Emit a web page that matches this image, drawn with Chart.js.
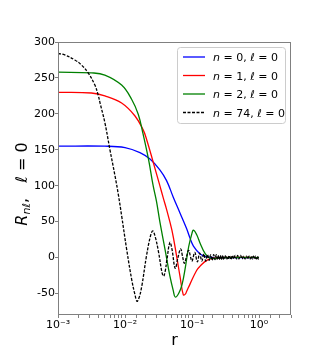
<!DOCTYPE html>
<html>
<head>
<meta charset="utf-8">
<script src="https://cdn.jsdelivr.net/npm/chart.js@4.4.0/dist/chart.umd.min.js"></script>
<style>
body{margin:0;background:#fff;}
#wrap{width:324px;height:354px;}
</style>
</head>
<body>
<div id="wrap"><canvas id="c" width="324" height="354"></canvas></div>
<script>
// series labels and colours
const labels = ['n = 0, ℓ = 0', 'n = 1, ℓ = 0', 'n = 2, ℓ = 0', 'n = 74, ℓ = 0'];
const colors = ['#0000ff', '#ff0000', '#008000', '#000000'];

// axis ticks
const xTickValues = [0.001, 0.01, 0.1, 1];
const xTickLabels = ['10⁻³', '10⁻²', '10⁻¹', '10⁰'];
const yTicks = [-50, 0, 50, 100, 150, 200, 250, 300];

// n = 0
const r0 = [0.001, 0.005, 0.01, 0.0167, 0.0236, 0.0331, 0.0417, 0.0525, 0.0661, 0.0832, 0.0933, 0.105, 0.132, 0.166, 0.209, 1.0];
const R0 = [155, 155, 153, 146, 137, 122, 107, 84, 62, 40, 27, 16, 5, 1, 0, 0];

// n = 1
const r1 = [0.001, 0.00316, 0.005, 0.0089, 0.0141, 0.0186, 0.0209, 0.0263, 0.0331, 0.0372, 0.0417, 0.0501, 0.0589, 0.0661, 0.0741, 0.0794, 0.0832, 0.0933, 0.117, 0.132, 0.166, 0.209, 0.263, 1.0];
const R1 = [230, 229, 225, 215, 197, 178, 165, 133, 100, 83, 67, 38, 2, -26, -52, -51, -47, -37, -18, -12, -4, -1, 0, 0];

// n = 2
const r2 = [0.001, 0.00316, 0.005, 0.0089, 0.0126, 0.0158, 0.0186, 0.0224, 0.0263, 0.0295, 0.0331, 0.0398, 0.0468, 0.0525, 0.0562, 0.0631, 0.0708, 0.0794, 0.0891, 0.1, 0.105, 0.117, 0.132, 0.158, 0.186, 0.224, 0.316, 1.0];
const R2 = [258, 257, 254, 240, 220, 199, 172, 137, 100, 78, 50, 10, -26, -46, -55, -50, -38, -14, 15, 34, 38, 32, 20, 5, -1, -1, 0, 0];

// n = 74
const r74 = [0.001, 0.00126, 0.00178, 0.00224, 0.00282, 0.00355, 0.00398, 0.00427, 0.005, 0.00596, 0.00708, 0.00794, 0.00891, 0.0106, 0.0126, 0.0141, 0.0151, 0.0162, 0.0178, 0.0209, 0.024, 0.026, 0.0282, 0.0316, 0.0355, 0.0376, 0.0398, 0.0422, 0.0468, 0.0501, 0.0562, 0.0617, 0.0676, 0.0724, 0.0767, 0.0832, 0.089, 0.0955,
  0.1, 0.11, 0.12, 0.13, 0.14, 0.15, 0.16, 0.17, 0.18, 0.19, 0.2, 0.21, 0.22, 0.23, 0.24, 0.25, 0.26, 0.27, 0.28, 0.29, 0.3, 0.32, 0.34, 0.36, 0.38, 0.4, 0.42, 0.44, 0.46, 0.48, 0.5, 0.53, 0.56, 0.59, 0.62, 0.65, 0.68, 0.71, 0.74, 0.77, 0.8, 0.83, 0.86, 0.89, 0.92, 0.95, 0.98, 1.0];
const R74 = [284, 282, 275, 268, 257, 240, 226, 214, 188, 150, 114, 88, 58, 11, -31, -52, -61, -56, -40, 2, 30, 37, 29, 8, -20, -26, -19, -3, 21, 12, -15, 0, 12, 1, -8, 2, 10, 0,
  -5, 7, -6, 6, -5, 5, -5, 4, -4, 4, -4, 4, -3, 4, -3, 3, -3, 3, -3, 3, -3, 3, -3, 3, -3, 3, -2, 3, -2, 3, -2, 3, -2, 2, -2, 2, -2, 2, -2, 2, -2, 2, -2, 2, -2, 2, -2, 0];

const series = [[r0, R0], [r1, R1], [r2, R2], [r74, R74]];

function pts(rs, vs){ return rs.map((r, i) => ({x: r, y: vs[i]})); }

// text with italic letters, upright digits
function drawMath(ctx, s, x, y, size){
  for (const ch of s){
    ctx.font = (/[a-zA-Zℓ]/.test(ch) ? 'italic ' : '') + size + 'px "DejaVu Sans"';
    ctx.fillText(ch, x, y);
    x += ctx.measureText(ch).width;
  }
}

const extras = {
  id: 'extras',
  afterDraw(chart){
    const ctx = chart.ctx, a = chart.chartArea;
    ctx.save();
    // frame
    ctx.strokeStyle = '#808080'; ctx.lineWidth = 1;
    ctx.strokeRect(a.left + 0.5, a.top + 0.5, a.width - 1, a.height - 1);

    // legend
    ctx.beginPath();
    ctx.roundRect(177.5, 47.5, 108, 76, 3);
    ctx.fillStyle = 'rgba(255,255,255,0.8)'; ctx.fill();
    ctx.strokeStyle = '#cccccc'; ctx.stroke();
    chart.data.datasets.forEach((d, i) => {
      const y = 57 + i * 18.5;
      ctx.beginPath();
      ctx.setLineDash(d.borderDash || []);
      ctx.strokeStyle = d.borderColor; ctx.lineWidth = d.borderWidth;
      ctx.moveTo(183, y); ctx.lineTo(205, y); ctx.stroke();
      ctx.setLineDash([]);
      ctx.fillStyle = '#000'; ctx.textBaseline = 'alphabetic'; ctx.textAlign = 'left';
      drawMath(ctx, d.label, 213, y + 4, 11);
    });

    // x title
    ctx.fillStyle = '#000';
    ctx.font = '16px "DejaVu Sans"'; ctx.textAlign = 'center';
    ctx.fillText('r', (a.left + a.right) / 2, 345);

    // y title
    const parts = [
      ['R', 'italic 16px', 0], ['nℓ', 'italic 11px', 3], [',   ', '16px', 0],
      ['ℓ', 'italic 16px', 0], [' = 0', '16px', 0]
    ];
    let w = 0;
    parts.forEach(p => { ctx.font = p[1] + ' "DejaVu Sans"'; w += ctx.measureText(p[0]).width; });
    ctx.translate(27, 184);
    ctx.rotate(-Math.PI / 2);
    ctx.textAlign = 'left';
    let x = -w / 2;
    parts.forEach(p => {
      ctx.font = p[1] + ' "DejaVu Sans"';
      ctx.fillText(p[0], x, p[2]);
      x += ctx.measureText(p[0]).width;
    });
    ctx.restore();
  }
};

Chart.defaults.font.family = '"DejaVu Sans"';
Chart.defaults.color = '#000';

new Chart(document.getElementById('c'), {
  type: 'line',
  data: {
    datasets: series.map((s, i) => ({
      label: labels[i],
      data: pts(s[0], s[1]),
      borderColor: colors[i],
      borderWidth: 1.3,
      borderDash: i == 3 ? [3, 1.5] : [],
      pointRadius: 0,
      tension: 0.4,
      order: 3 - i
    }))
  },
  options: {
    responsive: false,
    animation: false,
    layout: {padding: {left: 0, top: 42, right: 33, bottom: 0}},
    plugins: {legend: {display: false}, tooltip: {enabled: false}},
    scales: {
      x: {
        type: 'logarithmic',
        min: 0.001, max: 3,
        afterFit: s => { s.height = 39; },
        border: {display: false},
        grid: {drawOnChartArea: false, drawTicks: true, tickLength: 3, tickColor: '#808080'},
        ticks: {
          autoSkip: false, maxRotation: 0, padding: 1, font: {size: 11},
          callback: v => {
            const i = xTickValues.findIndex(t => Math.abs(v / t - 1) < 1e-6);
            return i >= 0 ? xTickLabels[i] : '';
          }
        }
      },
      y: {
        type: 'linear',
        min: -80, max: 300,
        afterFit: s => { s.width = 58; },
        border: {display: false},
        grid: {drawOnChartArea: false, drawTicks: true, tickLength: 3, tickColor: '#808080'},
        ticks: {stepSize: yTicks[1] - yTicks[0], includeBounds: false, padding: 0, font: {size: 11}}
      }
    }
  },
  plugins: [extras]
});
</script>
</body>
</html>
